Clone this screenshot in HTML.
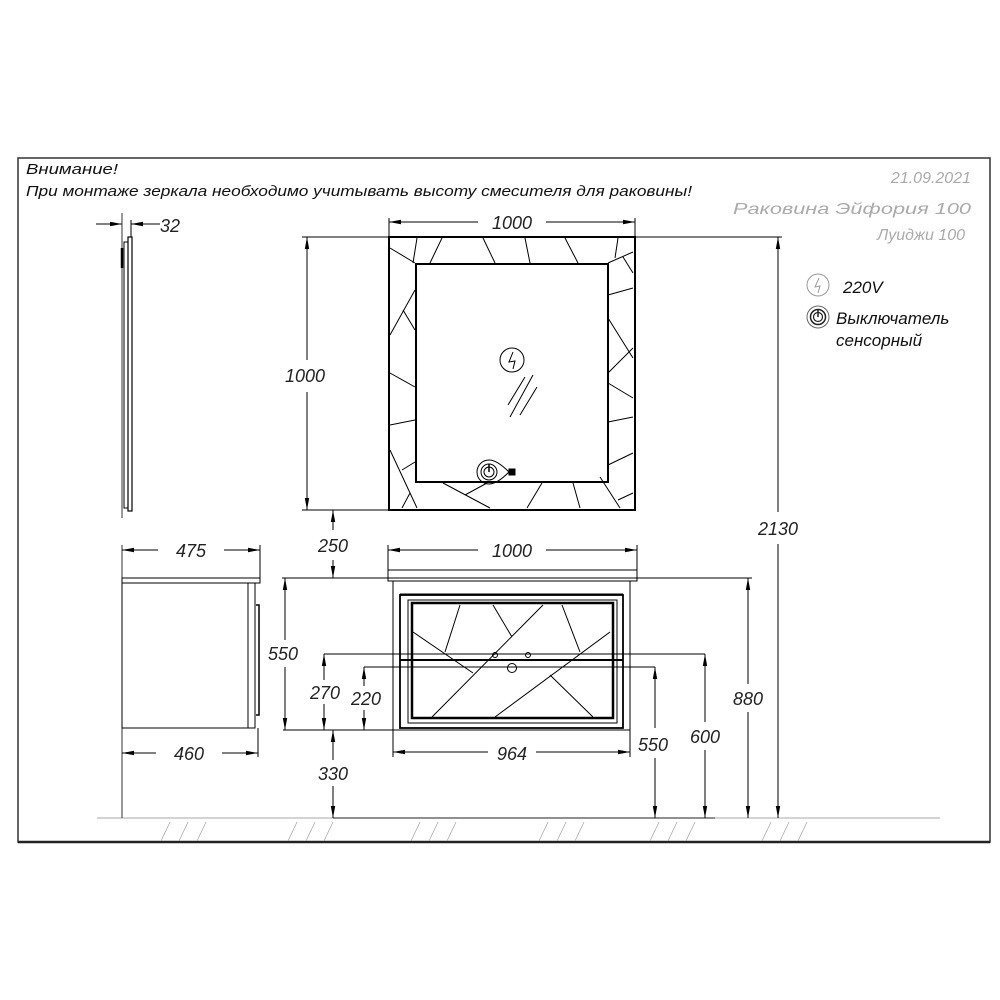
<!DOCTYPE html>
<html><head><meta charset="utf-8"><style>
html,body{margin:0;padding:0;background:#fff;}
svg{display:block;}
text{font-family:"Liberation Sans","DejaVu Sans",sans-serif;font-style:italic;}
</style></head><body>
<svg width="1000" height="1000" viewBox="0 0 1000 1000" xmlns="http://www.w3.org/2000/svg">
<defs>
<marker id="a" viewBox="0 0 12 6" refX="12" refY="3" markerWidth="12" markerHeight="6" orient="auto-start-reverse" markerUnits="userSpaceOnUse">
<path d="M0,0.8 L12,3 L0,5.2 z" fill="#000"/></marker>
</defs>
<rect width="1000" height="1000" fill="#fff"/>
<!-- frame -->
<path d="M18,842 L18,158 L990,158 L990,842 Z" fill="none" stroke="#333" stroke-width="1.5"/>
<path d="M18,842 L990,842" stroke="#222" stroke-width="2.5"/>
<!-- header text -->
<text x="26" y="174" font-size="14.5" fill="#111" textLength="92" lengthAdjust="spacingAndGlyphs">Внимание!</text>
<text x="26" y="196" font-size="14.5" fill="#111" textLength="666" lengthAdjust="spacingAndGlyphs">При монтаже зеркала необходимо учитывать высоту смесителя для раковины!</text>
<g fill="#aaa" font-size="16" text-anchor="end">
<text x="971" y="183">21.09.2021</text>
<text x="971" y="214" textLength="238" lengthAdjust="spacingAndGlyphs">Раковина  Эйфория  100</text>
<text x="965" y="240">Луиджи 100</text>
</g>
<!-- legend -->
<circle cx="818" cy="285" r="11" fill="none" stroke="#999" stroke-width="1"/>
<path d="M819,278 L815,287 L820,286 L818,293" fill="none" stroke="#999" stroke-width="1"/>
<text x="843" y="293" font-size="17" fill="#111">220V</text>
<circle cx="818" cy="317" r="11" fill="none" stroke="#666" stroke-width="1"/>
<circle cx="818" cy="317" r="7.5" fill="none" stroke="#222" stroke-width="1.5"/>
<circle cx="818" cy="317" r="4.5" fill="none" stroke="#222" stroke-width="1.2"/>
<path d="M818,310 L818,317" stroke="#222" stroke-width="1.5"/>
<text x="836" y="324" font-size="17" fill="#111">Выключатель</text>
<text x="836" y="346" font-size="17" fill="#111">сенсорный</text>

<g stroke="#000" fill="none" stroke-width="1">
<!-- floor -->
<line x1="97" y1="818" x2="940" y2="818" stroke="#aaa"/>
<line x1="333" y1="818" x2="715" y2="818" stroke="#222"/>
<g stroke="#aaa" stroke-width="0.8">
<path d="M170,822 L161,841 M188,822 L179,841 M206,822 L197,841"/>
<path d="M297,822 L288,841 M315,822 L306,841 M333,822 L324,841"/>
<path d="M420,822 L411,841 M438,822 L429,841 M456,822 L447,841"/>
<path d="M548,822 L539,841 M566,822 L557,841 M584,822 L575,841"/>
<path d="M659,822 L650,841 M677,822 L668,841 M695,822 L686,841"/>
<path d="M771,822 L762,841 M789,822 L780,841 M807,822 L798,841"/>
</g>

<!-- side mirror -->
<line x1="122" y1="213" x2="122" y2="518" stroke="#333"/>
<rect x="124" y="242" width="4" height="266"/>
<rect x="128" y="237" width="4" height="274" stroke-width="1.2"/>
<line x1="122" y1="248" x2="122" y2="268" stroke-width="2.5"/>
<line x1="131" y1="220" x2="131" y2="237"/>
<line x1="96" y1="224" x2="122" y2="224" marker-end="url(#a)"/>
<line x1="160" y1="224" x2="131" y2="224" marker-end="url(#a)"/>
</g>
<text x="160" y="232" font-size="18" fill="#222">32</text>

<g stroke="#000" fill="none" stroke-width="1">
<!-- front mirror -->
<rect x="389" y="237" width="246" height="273" stroke-width="2"/>
<rect x="416" y="264" width="192" height="218" stroke-width="2"/>
<path d="M390,248 L415,263 M417,238 L413,263 M442,238 L430,263 M483,238 L495,263 M525,238 L530,263 M565,238 L578,263 M618,238 L615,258 M608,263 L633,252 M623,257 L633,273"/>
<path d="M608,295 L633,288 M608,318 L633,358 M608,373 L633,348 M608,383 L633,398 M608,422 L633,417 M608,465 L633,453 M618,500 L633,493 M600,477 L620,508"/>
<path d="M443,483 L490,508 M465,495 L487,483 M542,483 L527,508 M573,483 L580,508 M390,450 L417,508 M402,470 L415,462 M402,508 L410,493"/>
<path d="M415,290 L390,335 M403,310 L415,330 M390,373 L415,387 M390,425 L415,420"/>
<circle cx="512" cy="360" r="12"/>
<path d="M513,352 L509,362 L515,361 L513,369"/>
<path d="M508,405 L525,377 M510,417 L533,375 M520,415 L537,387"/>
<path d="M489,460 A12,12 0 1 0 489,484 Q497,484 509,472 Q497,460 489,460 Z"/>
<circle cx="489" cy="472" r="8"/>
<circle cx="489" cy="472" r="5"/>
<line x1="489" y1="464" x2="489" y2="472" stroke-width="1.5"/>
<rect x="509" y="469" width="6" height="6" fill="#000"/>

<!-- mirror dims -->
<line x1="389" y1="218" x2="389" y2="237"/>
<line x1="635" y1="218" x2="635" y2="237"/>
<line x1="389" y1="222" x2="478" y2="222"/><line x1="546" y1="222" x2="635" y2="222"/>
<path d="M402,222 L389,222" marker-end="url(#a)"/><path d="M622,222 L635,222" marker-end="url(#a)"/>
<line x1="302" y1="237" x2="389" y2="237"/>
<line x1="302" y1="510" x2="389" y2="510"/>
<line x1="307" y1="237" x2="307" y2="360" marker-start="url(#a)"/>
<line x1="307" y1="392" x2="307" y2="510" marker-end="url(#a)"/>
<line x1="635" y1="237" x2="782" y2="237"/>
<line x1="778" y1="237" x2="778" y2="512" marker-start="url(#a)"/>
<line x1="778" y1="544" x2="778" y2="818" marker-end="url(#a)"/>
<!-- 250 -->
<line x1="333" y1="530" x2="333" y2="510" marker-end="url(#a)"/>
<line x1="333" y1="560" x2="333" y2="578" marker-end="url(#a)"/>

<!-- side cabinet -->
<line x1="122" y1="545" x2="122" y2="818" stroke="#333"/>
<rect x="122" y="578" width="138" height="5"/>
<rect x="122" y="583" width="133" height="145"/>
<line x1="248" y1="583" x2="248" y2="728"/>
<path d="M256,605 L259,605 L259,715 L256,715" stroke-width="1.5"/>
<line x1="260" y1="545" x2="260" y2="578"/>
<line x1="258" y1="728" x2="258" y2="757"/>
<line x1="122" y1="550" x2="158" y2="550" marker-start="url(#a)"/>
<line x1="224" y1="550" x2="260" y2="550" marker-end="url(#a)"/>
<line x1="122" y1="753" x2="156" y2="753" marker-start="url(#a)"/>
<line x1="222" y1="753" x2="258" y2="753" marker-end="url(#a)"/>

<!-- sink & cabinet -->
<line x1="282" y1="578" x2="752" y2="578"/>
<rect x="388" y="570" width="249" height="11"/>
<line x1="393" y1="581" x2="393" y2="730"/>
<line x1="630" y1="581" x2="630" y2="730"/>
<line x1="283" y1="730" x2="393" y2="730"/>
<line x1="393" y1="730" x2="630" y2="730"/>
<rect x="400" y="595" width="223" height="133" stroke-width="1.8"/>
<rect x="408" y="600" width="209" height="123"/>
<rect x="412" y="603" width="201" height="115" stroke-width="2.5"/>
<line x1="400" y1="594" x2="623" y2="594"/>
<path d="M413,632 L473,673 M460,605 L445,652 M493,605 L512,637 M543,605 L432,717 M562,605 L580,652 M610,632 L495,717 M550,675 L593,717"/>
<line x1="400" y1="660" x2="623" y2="660" stroke-width="2"/>
<circle cx="495" cy="655" r="2.5"/><circle cx="528" cy="655" r="2.5"/><circle cx="512" cy="668" r="4.5"/>
<!-- 1000 lower -->
<line x1="388" y1="545" x2="388" y2="570"/><line x1="637" y1="545" x2="637" y2="570"/>
<line x1="388" y1="550" x2="478" y2="550" marker-start="url(#a)"/>
<line x1="546" y1="550" x2="637" y2="550" marker-end="url(#a)"/>
<!-- 964 -->
<line x1="393" y1="730" x2="393" y2="757"/><line x1="630" y1="730" x2="630" y2="757"/>
<line x1="393" y1="752" x2="488" y2="752" marker-start="url(#a)"/>
<line x1="536" y1="752" x2="630" y2="752" marker-end="url(#a)"/>
<!-- 550 left -->
<line x1="285" y1="578" x2="285" y2="640" marker-start="url(#a)"/>
<line x1="285" y1="667" x2="285" y2="730" marker-end="url(#a)"/>
<!-- 270/220 -->
<line x1="324" y1="654" x2="705" y2="654"/>
<line x1="364" y1="667" x2="655" y2="667"/>
<line x1="324" y1="654" x2="324" y2="680" marker-start="url(#a)"/>
<line x1="324" y1="704" x2="324" y2="730" marker-end="url(#a)"/>
<line x1="364" y1="667" x2="364" y2="686" marker-start="url(#a)"/>
<line x1="364" y1="710" x2="364" y2="730" marker-end="url(#a)"/>
<!-- 330 -->
<line x1="333" y1="730" x2="333" y2="760" marker-start="url(#a)"/>
<line x1="333" y1="786" x2="333" y2="818" marker-end="url(#a)"/>
<!-- right dims -->
<line x1="655" y1="667" x2="655" y2="728" marker-start="url(#a)"/>
<line x1="655" y1="758" x2="655" y2="818" marker-end="url(#a)"/>
<line x1="705" y1="654" x2="705" y2="722" marker-start="url(#a)"/>
<line x1="705" y1="750" x2="705" y2="818" marker-end="url(#a)"/>
<line x1="748" y1="578" x2="748" y2="684" marker-start="url(#a)"/>
<line x1="748" y1="712" x2="748" y2="818" marker-end="url(#a)"/>
</g>

<g font-size="18" fill="#222" text-anchor="middle">
<text x="512" y="229">1000</text>
<text x="305" y="382">1000</text>
<text x="778" y="535">2130</text>
<text x="333" y="552">250</text>
<text x="191" y="557">475</text>
<text x="512" y="557">1000</text>
<text x="283" y="660">550</text>
<text x="325" y="699">270</text>
<text x="366" y="705">220</text>
<text x="189" y="760">460</text>
<text x="512" y="760">964</text>
<text x="333" y="780">330</text>
<text x="653" y="751">550</text>
<text x="705" y="743">600</text>
<text x="748" y="705">880</text>
</g>
</svg>
</body></html>
